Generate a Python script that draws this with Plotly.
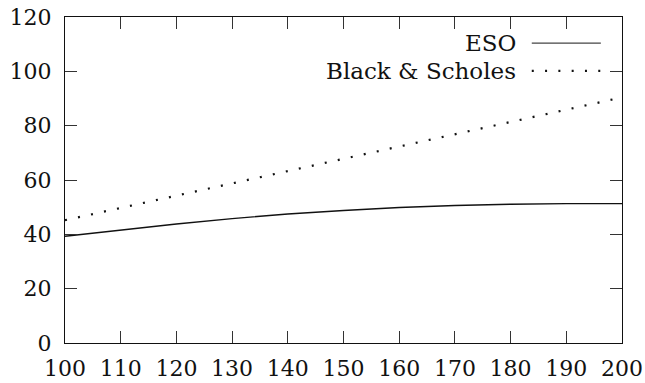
import plotly.graph_objects as go

# Option value vs. underlying price
strike_prices = [100, 110, 120, 130, 140, 150, 160, 170, 180, 190, 200]
eso_values = [39.3, 41.6, 43.8, 45.8, 47.5, 48.8, 49.9, 50.6, 51.1, 51.3, 51.3]
bs_values = [45.2, 49.7, 54.2, 58.8, 63.3, 67.8, 72.3, 76.8, 81.4, 85.9, 90.4]

series_names = ["ESO", "Black & Scholes"]
x_ticks = [100, 110, 120, 130, 140, 150, 160, 170, 180, 190, 200]
y_ticks = [0, 20, 40, 60, 80, 100, 120]

FONT = "DejaVu Serif"
FS = 22
KEY_FS = 23
DOT = "2px,11.3px"

fig = go.Figure()
fig.add_trace(go.Scatter(x=strike_prices, y=eso_values, mode="lines",
                         line=dict(color="#111111", width=1.4),
                         name=series_names[0], showlegend=False))
fig.add_trace(go.Scatter(x=strike_prices, y=bs_values, mode="lines",
                         line=dict(color="#111111", width=2.2, dash=DOT),
                         name=series_names[1], showlegend=False))

axis_common = dict(showline=True, linecolor="#111111", linewidth=1.3,
                   mirror="ticks", ticks="inside", ticklen=12, tickwidth=1,
                   tickcolor="#333333", showgrid=False, zeroline=False,
                   automargin=False,
                   tickfont=dict(family=FONT, size=FS, color="#111111"))

fig.update_xaxes(range=[100, 200], tickvals=x_ticks, ticklabelstandoff=5,
                 **axis_common)
fig.update_yaxes(range=[0, 120], tickvals=y_ticks, ticklabelstandoff=8,
                 **axis_common)

# Key in the top-right corner: label text to the left of the line sample
key_rows = [(0.920, dict(color="#444444", width=1.2)),
            (0.835, dict(color="#111111", width=2.2, dash=DOT))]
for name, (ky, style) in zip(series_names, key_rows):
    fig.add_annotation(x=0.811, y=ky, xref="paper", yref="paper",
                       text=name, showarrow=False, xanchor="right",
                       yanchor="middle", borderpad=0,
                       font=dict(family=FONT, size=KEY_FS, color="#111111"))
    fig.add_shape(type="line", xref="paper", yref="paper",
                  x0=0.838, x1=0.962, y0=ky, y1=ky, line=style)

fig.update_layout(width=645, height=383,
                  margin=dict(l=65, r=23, t=17, b=40),
                  paper_bgcolor="white", plot_bgcolor="white")

fig.write_html("out.html")
